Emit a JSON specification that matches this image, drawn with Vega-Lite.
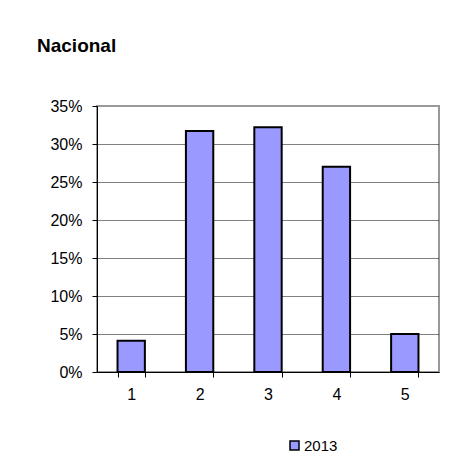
{
  "$schema": "https://vega.github.io/schema/vega-lite/v6.json",
  "autosize": {"type": "none"},
  "padding": {"left": 97, "top": 106, "right": 34, "bottom": 94},
  "width": 342,
  "height": 266,
  "background": "white",
  "title": {
    "text": "Nacional",
    "anchor": "start",
    "frame": "group",
    "font": "Liberation Sans",
    "fontSize": 19,
    "fontWeight": "bold",
    "color": "black",
    "baseline": "alphabetic",
    "dx": -60,
    "offset": 27
  },
  "data": {
    "values": [
      {"category": "1", "share": 0.041, "year": "2013"},
      {"category": "2", "share": 0.317, "year": "2013"},
      {"category": "3", "share": 0.322, "year": "2013"},
      {"category": "4", "share": 0.270, "year": "2013"},
      {"category": "5", "share": 0.050, "year": "2013"}
    ]
  },
  "mark": {"type": "bar", "stroke": "black", "strokeWidth": 2},
  "encoding": {
    "x": {
      "field": "category",
      "type": "ordinal",
      "scale": {"paddingInner": 0.6, "paddingOuter": 0.3},
      "axis": {
        "title": null,
        "labelAngle": 0,
        "tickBand": "extent",
        "domainColor": "black",
        "tickColor": "black",
        "tickSize": 5,
        "labelPadding": 9,
        "labelFont": "Liberation Sans",
        "labelFontSize": 16,
        "labelColor": "black",
        "grid": false
      }
    },
    "y": {
      "field": "share",
      "type": "quantitative",
      "scale": {"domain": [0, 0.35], "nice": false},
      "axis": {
        "title": null,
        "values": [0, 0.05, 0.1, 0.15, 0.2, 0.25, 0.3, 0.35],
        "format": ".0%",
        "domainColor": "black",
        "tickColor": "black",
        "tickSize": 5,
        "labelPadding": 10,
        "labelFont": "Liberation Sans",
        "labelFontSize": 16,
        "labelColor": "black",
        "grid": true,
        "gridColor": "black",
        "gridDash": [1, 1],
        "gridOpacity": {"condition": {"test": "datum.value >= 0.35 || datum.value <= 0", "value": 0}, "value": 1}
      }
    },
    "color": {
      "field": "year",
      "type": "nominal",
      "scale": {"domain": ["2013"], "range": ["#9999FF"]},
      "legend": {
        "title": null,
        "orient": "none",
        "legendX": 190,
        "legendY": 332,
        "symbolType": "square",
        "symbolSize": 81,
        "symbolStrokeColor": "black",
        "symbolStrokeWidth": 1.5,
        "labelFont": "Liberation Sans",
        "labelFontSize": 15,
        "labelColor": "black",
        "labelOffset": 2
      }
    }
  },
  "config": {
    "view": {"stroke": "#999999", "strokeWidth": 2},
    "axis": {"domainWidth": 1, "tickWidth": 1}
  }
}
